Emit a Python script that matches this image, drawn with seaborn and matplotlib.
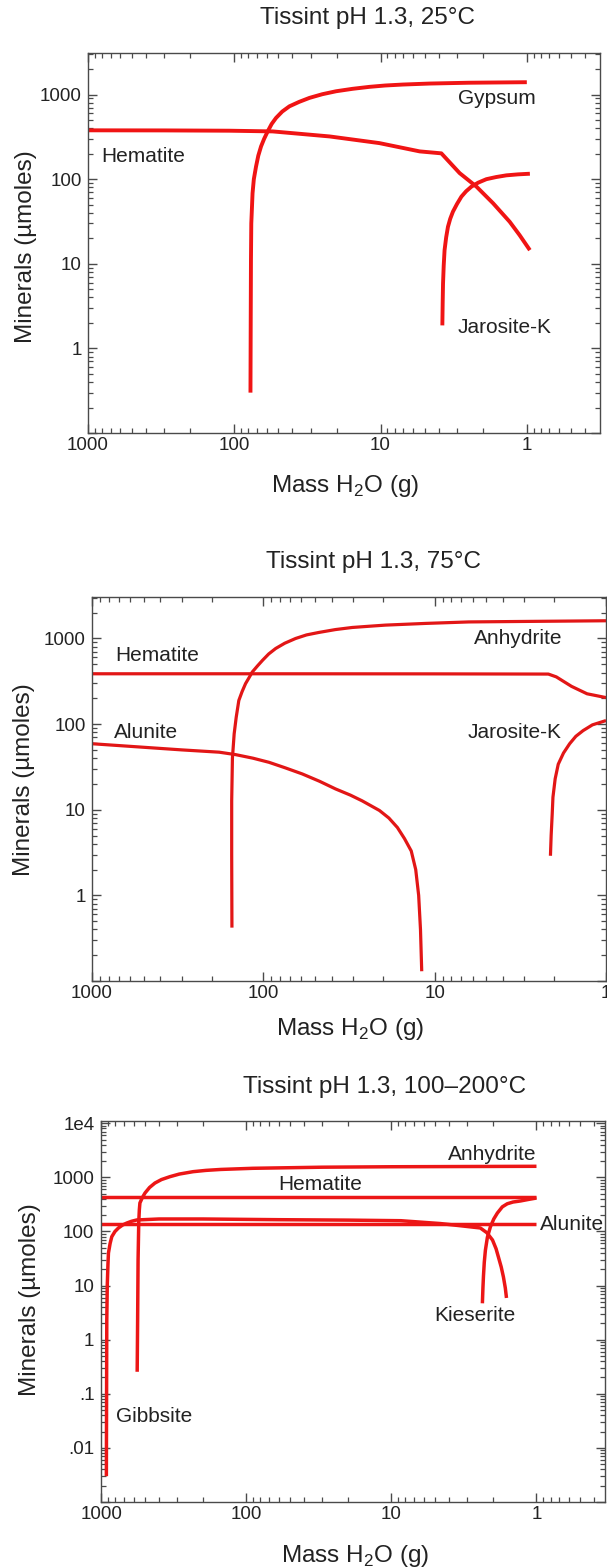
import matplotlib
matplotlib.use("Agg")
import matplotlib.pyplot as plt
import seaborn as sns
from matplotlib.ticker import FixedLocator, FixedFormatter, LogLocator, NullFormatter

# ---------------- data ----------------
# Panel 1: Tissint pH 1.3, 25°C
p1_hematite_x = [1000, 300, 108, 54.7, 22.3, 10.2, 5.4, 3.84, 2.88, 2.21, 1.70, 1.31, 1.12, 0.953]
p1_hematite_y = [378, 377, 374, 367, 320, 267, 213, 202, 118, 81.7, 51.9, 31.4, 21.8, 14.5]
p1_gypsum_x = [77.5, 77.2, 76.9, 76.5, 75.0, 73.5, 71.0, 68.5, 65.6, 62.5, 59.1, 55.5, 51.8, 47.0,
               42.0, 36.0, 30.6, 25.0, 20.1, 15.5, 11.9, 9.3, 7.03, 4.61, 2.5, 1.0]
p1_gypsum_y = [0.3, 2.0, 11.0, 30, 68.2, 100, 141, 190, 244, 300, 367, 450, 530, 630,
               726, 820, 914, 1010, 1095, 1170, 1234, 1280, 1314, 1350, 1380, 1400]
p1_jarosite_x = [3.78, 3.76, 3.74, 3.70, 3.65, 3.56, 3.46, 3.34, 3.2, 3.0, 2.8, 2.6, 2.39, 2.15,
                 1.89, 1.62, 1.38, 1.15, 0.953]
p1_jarosite_y = [1.87, 3.5, 5.8, 9.5, 14.5, 20.5, 27.4, 34, 41.3, 51, 62.2, 72, 81.7, 91,
                 100, 106, 111, 114, 116]

# Panel 2: Tissint pH 1.3, 75°C
p2_hematite_x = [1000, 100, 10, 2.17, 1.95, 1.59, 1.29, 1.0]
p2_hematite_y = [387, 387, 386, 384, 356, 276, 226, 204]
p2_anhydrite_x = [152.5, 153, 153, 151.5, 148, 144, 139, 133, 127, 121, 116, 108, 101, 93,
                  84.7, 75, 64.8, 56, 47.4, 38, 30.3, 24, 19.4, 11.3, 6.33, 3.1, 1.0]
p2_anhydrite_y = [0.42, 3.0, 12.7, 40, 77, 120, 189, 240, 297, 350, 406, 480, 557, 660,
                  764, 880, 1000, 1100, 1176, 1270, 1344, 1390, 1432, 1499, 1560, 1580, 1610]
p2_alunite_x = [1000, 600, 300, 181, 145, 115, 92.7, 75, 59.3, 47, 37.9, 31, 26.5, 21, 18.5,
                16.5, 15, 13.7, 12.9, 12.4, 12.1, 11.9]
p2_alunite_y = [59, 55, 50, 47, 44, 40, 35.8, 31, 26.2, 21.5, 17.5, 14.8, 12.7, 9.8, 8.0,
                6.2, 4.6, 3.3, 2.0, 1.0, 0.4, 0.13]
p2_jarosite_x = [2.11, 2.09, 2.06, 2.04, 1.98, 1.9, 1.77, 1.63, 1.50, 1.36, 1.2, 1.0]
p2_jarosite_y = [2.9, 5, 9, 14, 23, 34, 46, 59, 72, 84, 98, 110]

# Panel 3: Tissint pH 1.3, 100–200°C
p3_anhydrite_x = [566, 562, 558, 552, 547, 542, 522, 500, 465, 427, 385, 337, 290, 233, 190,
                  150, 90, 30, 10, 1.0]
p3_anhydrite_y = [0.255, 2.3, 30, 150, 250, 336, 420, 513, 650, 785, 910, 1028, 1150, 1273,
                  1345, 1400, 1470, 1540, 1570, 1600]
p3_hematite_x = [1000, 1.0]
p3_hematite_y = [440, 440]
p3_alunite_x = [1000, 1.0]
p3_alunite_y = [137, 137]
p3_gibbsite_x = [923, 920, 917, 910, 900, 893, 870, 847, 805, 762, 715, 668, 620, 570, 400,
                 200, 60, 20, 8.6, 4.6, 3.3, 2.44, 2.2, 2.01, 1.9, 1.83, 1.75, 1.69, 1.64, 1.61]
p3_gibbsite_y = [0.003, 0.1, 2.3, 10, 25, 40, 60, 80, 100, 116, 131, 143, 154, 163, 170,
                 170, 165, 162, 158, 140, 127, 116, 95, 69.5, 48, 33.7, 22, 14.4, 9, 5.9]
p3_kieserite_x = [2.36, 2.34, 2.32, 2.29, 2.25, 2.18, 2.08, 1.97, 1.86, 1.72, 1.59, 1.45,
                  1.29, 1.14, 1.0]
p3_kieserite_y = [4.7, 9, 15, 27, 45, 78, 121, 170, 219, 285, 325, 350, 366, 390, 415]

x_ticks = [1000, 100, 10, 1]
x_tick_labels = ["1000", "100", "10", "1"]
y_ticks_12 = [0.1, 1, 10, 100, 1000]
y_tick_labels_12 = ["", "1", "10", "100", "1000"]
y_ticks_3 = [0.001, 0.01, 0.1, 1, 10, 100, 1000, 10000]
y_tick_labels_3 = ["", ".01", ".1", "1", "10", "100", "1000", "1e4"]

titles = ["Tissint pH 1.3, 25°C", "Tissint pH 1.3, 75°C", "Tissint pH 1.3, 100–200°C"]

# ---------------- style ----------------
sns.set_theme(style="ticks")
plt.rcParams["font.family"] = ["Liberation Sans", "DejaVu Sans"]
plt.rcParams["mathtext.fontset"] = "custom"
plt.rcParams["mathtext.rm"] = "Liberation Sans"
TXT = "#222222"
SPINE = "#4a4a4a"

fig = plt.figure(figsize=(6.07, 15.68), dpi=100)

axes_rects = [
    [88 / 607, 1 - 433 / 1568, (600 - 88) / 607, (433 - 53) / 1568],
    [92 / 607, 1 - 981 / 1568, (606 - 92) / 607, (981 - 597) / 1568],
    [100.7 / 607, 1 - 1502 / 1568, (605 - 100.7) / 607, (1502 - 1121) / 1568],
]
xlims = [(1000, 0.316), (1000, 1.0), (1010, 0.337)]
ylims = [(0.1, 3100), (0.1, 3050), (0.001, 11000)]
line_colors = ["#f01414", "#e21616", "#ec1616"]
line_widths = [2.8, 2.3, 2.5]
title_pos = [(368 / 607, 1 - 18 / 1568), (374 / 607, 1 - 562 / 1568), (385 / 607, 1 - 1087 / 1568)]
ylabel_coords = [(-0.100, 0.49), (-0.111, 0.525), (-0.119, 0.53)]
xlabel_coords = [(0.502, -0.105), (0.502, -0.092), (0.504, -0.108)]

series = [
    [(p1_hematite_x, p1_hematite_y), (p1_gypsum_x, p1_gypsum_y), (p1_jarosite_x, p1_jarosite_y)],
    [(p2_hematite_x, p2_hematite_y), (p2_anhydrite_x, p2_anhydrite_y),
     (p2_alunite_x, p2_alunite_y), (p2_jarosite_x, p2_jarosite_y)],
    [(p3_anhydrite_x, p3_anhydrite_y), (p3_hematite_x, p3_hematite_y), (p3_alunite_x, p3_alunite_y),
     (p3_gibbsite_x, p3_gibbsite_y), (p3_kieserite_x, p3_kieserite_y)],
]
labels = [
    [("Gypsum", 2.95, 890), ("Hematite", 818, 185), ("Jarosite-K", 2.95, 1.75)],
    [("Hematite", 732, 638), ("Anhydrite", 5.9, 990), ("Alunite", 740, 80.5), ("Jarosite-K", 6.46, 80.5)],
    [("Anhydrite", 4.1, 2670), ("Hematite", 60.5, 745), ("Alunite", 0.94, 137),
     ("Kieserite", 5.1, 2.85), ("Gibbsite", 793, 0.0376)],
]

for i in range(3):
    ax = fig.add_axes(axes_rects[i])
    ax.set_xscale("log")
    ax.set_yscale("log")
    for xs, ys in series[i]:
        sns.lineplot(x=xs, y=ys, ax=ax, sort=False, estimator=None,
                     color=line_colors[i], lw=line_widths[i], solid_capstyle="butt",
                     solid_joinstyle="round")
    ax.set_xlim(*xlims[i])
    ax.set_ylim(*ylims[i])

    ax.xaxis.set_major_locator(FixedLocator(x_ticks))
    ax.xaxis.set_major_formatter(FixedFormatter(x_tick_labels))
    if i < 2:
        ax.yaxis.set_major_locator(FixedLocator(y_ticks_12))
        ax.yaxis.set_major_formatter(FixedFormatter(y_tick_labels_12))
    else:
        ax.yaxis.set_major_locator(FixedLocator(y_ticks_3))
        ax.yaxis.set_major_formatter(FixedFormatter(y_tick_labels_3))
    for axis in (ax.xaxis, ax.yaxis):
        axis.set_minor_locator(LogLocator(base=10, subs=range(2, 10), numticks=50))
        axis.set_minor_formatter(NullFormatter())

    ax.tick_params(which="both", direction="in", top=True, right=True, colors=SPINE,
                   labelcolor=TXT, labelsize=13.5)
    ax.tick_params(which="major", length=6.5, width=1.0)
    ax.tick_params(which="minor", length=3.5, width=0.9)
    ax.tick_params(axis="x", which="major", pad=3)
    ax.tick_params(axis="y", which="major", pad=4.5)
    for sp in ax.spines.values():
        sp.set_color(SPINE)
        sp.set_linewidth(1.0)

    ax.set_xlabel(r"Mass H$_\mathregular{2}$O (g)", fontsize=17.5, color=TXT)
    ax.set_ylabel("Minerals (µmoles)", fontsize=17.5, color=TXT)
    ax.xaxis.set_label_coords(*xlabel_coords[i])
    ax.yaxis.set_label_coords(*ylabel_coords[i])

    for txt, lx, ly in labels[i]:
        ax.text(lx, ly, txt, fontsize=15, color=TXT, ha="left", va="center")

    fig.text(title_pos[i][0], title_pos[i][1], titles[i], fontsize=17.5, color=TXT,
             ha="center", va="center")

fig.savefig("out.png", dpi=100)
